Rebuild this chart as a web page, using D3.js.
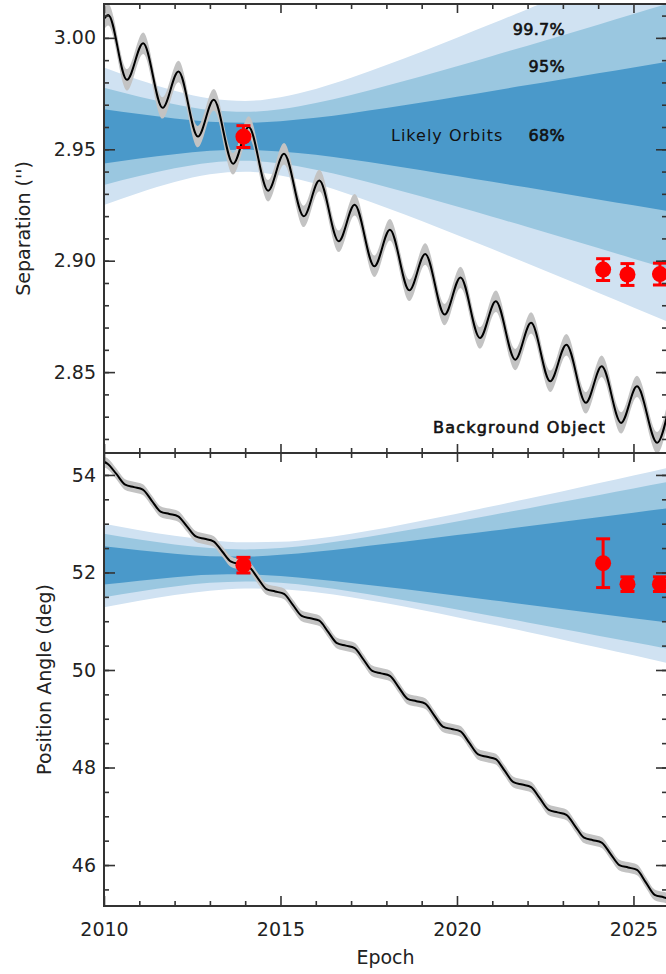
<!DOCTYPE html>
<html>
<head>
<meta charset="utf-8">
<script src="https://cdn.jsdelivr.net/npm/d3@7"></script>
<style>
  body { margin: 0; background: #fff; }
  svg { display: block; font-family: "DejaVu Sans", sans-serif; }
</style>
</head>
<body>
<div id="chart"></div>
<script>
// ---- data ----
const bandEpochs = [2010, 2011, 2012, 2013, 2014, 2015, 2016, 2017, 2018, 2019, 2020, 2021, 2022, 2023, 2024, 2025, 2026];

// separation ('') confidence bands of likely orbits
const sep997Hi = [2.9867, 2.9811, 2.9763, 2.9728, 2.9717, 2.9734, 2.9771, 2.9821, 2.9878, 2.9938, 3.0001, 3.0064, 3.0129, 3.0194, 3.0260, 3.0326, 3.0393];
const sep997Lo = [2.9250, 2.9305, 2.9353, 2.9388, 2.9399, 2.9382, 2.9345, 2.9295, 2.9238, 2.9178, 2.9115, 2.9052, 2.8987, 2.8922, 2.8856, 2.8790, 2.8724];
const sep95Hi = [2.9776, 2.9736, 2.9702, 2.9676, 2.9668, 2.9680, 2.9708, 2.9744, 2.9785, 2.9828, 2.9873, 2.9919, 2.9965, 3.0012, 3.0059, 3.0107, 3.0154];
const sep95Lo = [2.9340, 2.9380, 2.9415, 2.9440, 2.9448, 2.9436, 2.9408, 2.9372, 2.9331, 2.9288, 2.9243, 2.9197, 2.9151, 2.9104, 2.9057, 2.9009, 2.8962];
const sep68Hi = [2.9680, 2.9658, 2.9638, 2.9624, 2.9619, 2.9626, 2.9641, 2.9662, 2.9685, 2.9710, 2.9736, 2.9762, 2.9788, 2.9814, 2.9841, 2.9867, 2.9894];
const sep68Lo = [2.9436, 2.9459, 2.9478, 2.9493, 2.9498, 2.9490, 2.9475, 2.9454, 2.9431, 2.9406, 2.9380, 2.9354, 2.9328, 2.9302, 2.9275, 2.9249, 2.9222];

// position angle (deg) confidence bands
const pa997Hi = [53.001, 52.868, 52.751, 52.663, 52.618, 52.630, 52.694, 52.796, 52.919, 53.059, 53.205, 53.356, 53.510, 53.668, 53.828, 53.988, 54.150];
const pa997Lo = [51.287, 51.420, 51.537, 51.625, 51.670, 51.658, 51.594, 51.492, 51.369, 51.229, 51.083, 50.932, 50.778, 50.620, 50.460, 50.300, 50.138];
const pa95Hi = [52.794, 52.677, 52.576, 52.501, 52.472, 52.501, 52.576, 52.677, 52.794, 52.919, 53.047, 53.180, 53.313, 53.449, 53.584, 53.721, 53.859];
const pa95Lo = [51.494, 51.611, 51.712, 51.787, 51.816, 51.787, 51.712, 51.611, 51.494, 51.369, 51.241, 51.108, 50.975, 50.839, 50.704, 50.567, 50.429];
const pa68Hi = [52.536, 52.456, 52.384, 52.334, 52.325, 52.361, 52.425, 52.503, 52.587, 52.675, 52.766, 52.856, 52.948, 53.040, 53.133, 53.225, 53.317];
const pa68Lo = [51.752, 51.832, 51.904, 51.954, 51.963, 51.927, 51.863, 51.785, 51.701, 51.613, 51.522, 51.432, 51.340, 51.248, 51.155, 51.063, 50.971];

// background object track, separation (epoch, '') at its turning points
const sepTrack = [
  [2010.00, 3.0085], [2010.12, 3.0103], [2010.65, 2.9812], [2011.11, 2.9976], [2011.66, 2.9686],
  [2012.11, 2.9849], [2012.66, 2.9557], [2013.11, 2.9722], [2013.66, 2.9435], [2014.10, 2.9600],
  [2014.65, 2.9314], [2015.10, 2.9480], [2015.66, 2.9199], [2016.10, 2.9360], [2016.65, 2.9087],
  [2017.10, 2.9251], [2017.66, 2.8975], [2018.10, 2.9139], [2018.65, 2.8867], [2019.10, 2.9030],
  [2019.65, 2.8758], [2020.10, 2.8925], [2020.65, 2.8653], [2021.10, 2.8818], [2021.65, 2.8556],
  [2022.10, 2.8721], [2022.64, 2.8459], [2023.10, 2.8623], [2023.65, 2.8362], [2024.10, 2.8526],
  [2024.65, 2.8272], [2025.10, 2.8436], [2025.67, 2.8183], [2026.00, 2.8340]
];
const sepTrackErr = 0.0048;

// background object track, position angle (epoch, deg)
const paTrack = [
  [2010.00, 54.27], [2010.10, 54.23], [2010.35, 54.02], [2010.60, 53.80],
  [2010.85, 53.75], [2011.10, 53.70], [2011.35, 53.475], [2011.60, 53.25],
  [2011.85, 53.20], [2012.10, 53.15], [2012.35, 52.945], [2012.60, 52.74],
  [2012.85, 52.69], [2013.10, 52.64], [2013.35, 52.43], [2013.60, 52.22],
  [2013.85, 52.17], [2014.10, 52.12], [2014.35, 51.89], [2014.60, 51.66],
  [2014.85, 51.61], [2015.10, 51.56], [2015.35, 51.335], [2015.60, 51.11],
  [2015.85, 51.06], [2016.10, 51.01], [2016.35, 50.78], [2016.60, 50.55],
  [2016.85, 50.50], [2017.10, 50.45], [2017.35, 50.215], [2017.60, 49.98],
  [2017.85, 49.93], [2018.10, 49.88], [2018.35, 49.645], [2018.60, 49.41],
  [2018.85, 49.36], [2019.10, 49.31], [2019.35, 49.075], [2019.60, 48.84],
  [2019.85, 48.79], [2020.10, 48.74], [2020.35, 48.505], [2020.60, 48.27],
  [2020.85, 48.22], [2021.10, 48.17], [2021.35, 47.935], [2021.60, 47.70],
  [2021.85, 47.65], [2022.10, 47.60], [2022.35, 47.365], [2022.60, 47.13],
  [2022.85, 47.08], [2023.10, 47.03], [2023.35, 46.795], [2023.60, 46.56],
  [2023.85, 46.51], [2024.10, 46.46], [2024.35, 46.23], [2024.60, 46.00],
  [2024.85, 45.95], [2025.10, 45.90], [2025.35, 45.645], [2025.60, 45.39],
  [2025.85, 45.34], [2026.00, 45.31]
];
const paTrackErr = 0.11;

// measurements
const obsEpoch = [2013.95, 2024.14, 2024.83, 2025.75];
const sepObs = [2.9557, 2.8960, 2.8938, 2.8940];
const sepObsErr = [0.0049, 0.0049, 0.0049, 0.0049];
const paObs = [52.15, 52.19, 51.76, 51.76];
const paObsErr = [0.16, 0.50, 0.15, 0.15];

const xMajor = [2010, 2015, 2020, 2025];
const sepMajor = [2.85, 2.90, 2.95, 3.00];
const paMajor = [46, 48, 50, 52, 54];

// ---- layout ----
const W = 666, H = 974;
const left = 104, right = 667;
const top1 = 4, mid = 453, bot2 = 906;

const svg = d3.select("#chart").append("svg").attr("width", W).attr("height", H);

const x = d3.scaleLinear().domain([2010, 2025.95]).range([left, right]);
const ySep = d3.scaleLinear().domain([2.8137, 3.0152]).range([mid, top1]);
const yPa = d3.scaleLinear().domain([45.16, 54.45]).range([bot2, mid]);

const colors = { c997: "#d0e2f2", c95: "#9ac7e0", c68: "#4a99ca", grey: "#c3c3c3" };

const defs = svg.append("defs");
defs.append("clipPath").attr("id", "clipTop").append("rect")
  .attr("x", left).attr("y", top1).attr("width", right - left).attr("height", mid - top1);
defs.append("clipPath").attr("id", "clipBot").append("rect")
  .attr("x", left).attr("y", mid).attr("width", right - left).attr("height", bot2 - mid);

function drawPanel(clipId, y, bands, track, trackErr, obs, obsErr) {
  const g = svg.append("g").attr("clip-path", "url(#" + clipId + ")");
  bands.forEach(function(b) {
    const area = d3.area()
      .x(function(d, i) { return x(bandEpochs[i]); })
      .y0(function(d, i) { return y(b.lo[i]); })
      .y1(function(d, i) { return y(b.hi[i]); })
      .curve(d3.curveMonotoneX);
    g.append("path").datum(b.hi).attr("d", area).attr("fill", b.color);
  });
  const errArea = d3.area()
    .x(function(d) { return x(d[0]); })
    .y0(function(d) { return y(d[1] - trackErr); })
    .y1(function(d) { return y(d[1] + trackErr); })
    .curve(d3.curveMonotoneX);
  g.append("path").datum(track).attr("d", errArea).attr("fill", colors.grey);
  const line = d3.line()
    .x(function(d) { return x(d[0]); })
    .y(function(d) { return y(d[1]); })
    .curve(d3.curveMonotoneX);
  g.append("path").datum(track).attr("d", line)
    .attr("fill", "none").attr("stroke", "#000").attr("stroke-width", 2);

  // red measurements
  const pts = svg.append("g");
  obsEpoch.forEach(function(t, i) {
    const cx = x(t);
    const yHi = y(obs[i] + obsErr[i]), yLo = y(obs[i] - obsErr[i]);
    pts.append("line").attr("x1", cx).attr("x2", cx).attr("y1", yHi).attr("y2", yLo)
      .attr("stroke", "#ff0000").attr("stroke-width", 3);
    [yHi, yLo].forEach(function(yy) {
      pts.append("line").attr("x1", cx - 7).attr("x2", cx + 7).attr("y1", yy).attr("y2", yy)
        .attr("stroke", "#ff0000").attr("stroke-width", 3);
    });
    pts.append("circle").attr("cx", cx).attr("cy", y(obs[i])).attr("r", 8).attr("fill", "#ff0000");
  });
}

drawPanel("clipTop", ySep,
  [{ hi: sep997Hi, lo: sep997Lo, color: colors.c997 },
   { hi: sep95Hi, lo: sep95Lo, color: colors.c95 },
   { hi: sep68Hi, lo: sep68Lo, color: colors.c68 }],
  sepTrack, sepTrackErr, sepObs, sepObsErr);

drawPanel("clipBot", yPa,
  [{ hi: pa997Hi, lo: pa997Lo, color: colors.c997 },
   { hi: pa95Hi, lo: pa95Lo, color: colors.c95 },
   { hi: pa68Hi, lo: pa68Lo, color: colors.c68 }],
  paTrack, paTrackErr, paObs, paObsErr);

// ---- annotations ----
const ann = svg.append("g").attr("fill", "#111").attr("font-size", 16);
function label(txt, xx, yy, anchor, heavy, spacing) {
  const t = ann.append("text").attr("x", xx).attr("y", yy).attr("text-anchor", anchor)
    .attr("letter-spacing", spacing).text(txt);
  if (heavy) t.attr("stroke", "#111").attr("stroke-width", 0.6);
  return t;
}
label("99.7%", 565, 35, "end", true, 0.3);
label("95%", 565, 72, "end", true, 0.3);
label("68%", 565, 141, "end", true, 0.3);
label("Likely Orbits", 391, 141, "start", false, 1);
label("Background Object", 433, 433, "start", true, 1.2);

// ---- axes ----
const axisColor = "#333";
function minorVals(lo, hi, step) {
  const out = [];
  for (let v = lo; v <= hi + 1e-9; v += step) out.push(+v.toFixed(4));
  return out;
}
const xMinor = minorVals(2010, 2025, 1).filter(function(v) { return xMajor.indexOf(v) < 0; });
const sepMinor = minorVals(2.82, 3.01, 0.01);
const paMinor = minorVals(45.5, 54, 0.5);

function styleAxis(g, showLabels) {
  g.select(".domain").remove();
  g.selectAll(".tick line").attr("stroke", axisColor).attr("stroke-width", 1.6);
  if (!showLabels) g.selectAll(".tick text").remove();
  g.selectAll(".tick text").attr("fill", "#222").attr("font-size", 19)
    .attr("font-family", "DejaVu Sans, sans-serif");
}

function addAxis(axisFn, scale, vals, size, pos, showLabels, fmt, pad) {
  const a = axisFn(scale).tickValues(vals).tickSize(size).tickPadding(pad || 8);
  if (fmt) a.tickFormat(fmt); else a.tickFormat("");
  const g = svg.append("g").attr("transform", pos).call(a);
  styleAxis(g, showLabels);
}

// x axes: top of top panel, shared middle, bottom
addAxis(d3.axisTop, x, xMajor, -9, "translate(0," + top1 + ")", false);
addAxis(d3.axisTop, x, xMinor, -5, "translate(0," + top1 + ")", false);
addAxis(d3.axisBottom, x, xMajor, -9, "translate(0," + mid + ")", false);
addAxis(d3.axisBottom, x, xMinor, -5, "translate(0," + mid + ")", false);
addAxis(d3.axisTop, x, xMajor, -9, "translate(0," + mid + ")", false);
addAxis(d3.axisTop, x, xMinor, -5, "translate(0," + mid + ")", false);
addAxis(d3.axisBottom, x, xMajor, -10, "translate(0," + bot2 + ")", true, d3.format("d"), 17);
addAxis(d3.axisBottom, x, xMinor, -5, "translate(0," + bot2 + ")", false);

// y axes
addAxis(d3.axisLeft, ySep, sepMajor, -11, "translate(" + left + ",0)", true, d3.format(".2f"));
addAxis(d3.axisLeft, ySep, sepMinor, -5, "translate(" + left + ",0)", false);
addAxis(d3.axisRight, ySep, sepMajor, -11, "translate(" + right + ",0)", false);
addAxis(d3.axisRight, ySep, sepMinor, -5, "translate(" + right + ",0)", false);
addAxis(d3.axisLeft, yPa, paMajor, -11, "translate(" + left + ",0)", true, d3.format("d"));
addAxis(d3.axisLeft, yPa, paMinor, -5, "translate(" + left + ",0)", false);
addAxis(d3.axisRight, yPa, paMajor, -11, "translate(" + right + ",0)", false);
addAxis(d3.axisRight, yPa, paMinor, -5, "translate(" + right + ",0)", false);

// frame
svg.append("rect").attr("x", left).attr("y", top1).attr("width", right - left).attr("height", bot2 - top1)
  .attr("fill", "none").attr("stroke", axisColor).attr("stroke-width", 2);
svg.append("line").attr("x1", left).attr("x2", right).attr("y1", mid).attr("y2", mid)
  .attr("stroke", axisColor).attr("stroke-width", 2);

// axis titles
svg.append("text").attr("transform", "translate(30," + (top1 + mid) / 2 + ") rotate(-90)")
  .attr("text-anchor", "middle").attr("font-size", 19).attr("fill", "#222").text("Separation ('')");
svg.append("text").attr("transform", "translate(51," + (mid + bot2) / 2 + ") rotate(-90)")
  .attr("text-anchor", "middle").attr("font-size", 19).attr("fill", "#222").text("Position Angle (deg)");
svg.append("text").attr("x", (left + right) / 2).attr("y", 964)
  .attr("text-anchor", "middle").attr("font-size", 19).attr("fill", "#222").text("Epoch");
</script>
</body>
</html>
